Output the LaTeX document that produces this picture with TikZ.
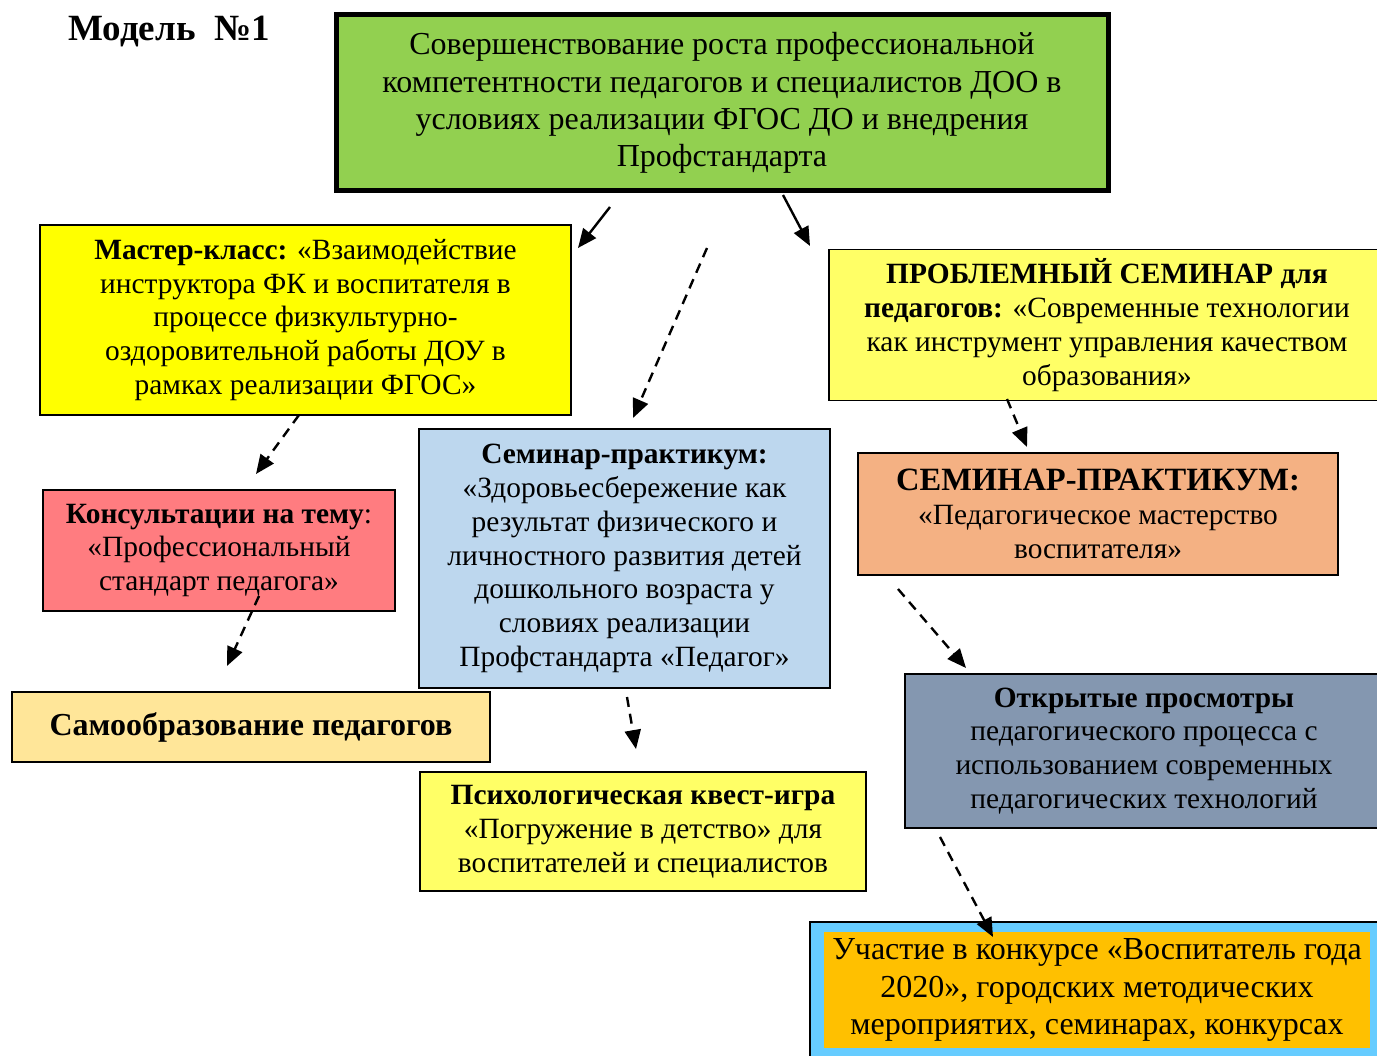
\documentclass[tikz,border=0pt]{standalone}
\usepackage{fontspec}
\setmainfont{Liberation Serif}
\usetikzlibrary{arrows.meta}
\definecolor{cgreen}{HTML}{92D050}
\definecolor{cyellow}{HTML}{FFFF00}
\definecolor{clyellow}{HTML}{FFFF66}
\definecolor{cblue}{HTML}{BDD7EE}
\definecolor{cred}{HTML}{FF7C80}
\definecolor{corange}{HTML}{F4B183}
\definecolor{csamo}{HTML}{FFE699}
\definecolor{cslate}{HTML}{8497B0}
\definecolor{ccyan}{HTML}{66CCFF}
\definecolor{cgold}{HTML}{FFC000}
\newcommand{\fsA}{\fontsize{29.4}{33.8}\selectfont}
\newcommand{\fsB}{\fontsize{32}{37.3}\selectfont}
\newcommand{\fsC}{\fontsize{32}{34}\selectfont}
\tikzset{
  box/.style={draw=black, line width=1.8pt, align=center, inner sep=0pt, font=\fsA, text=black},
  arr/.style={-{Triangle[length=19pt,width=16pt]}, line width=2.4pt},
  darr/.style={arr, dash pattern=on 10pt off 7pt},
}
\begin{document}
\begin{tikzpicture}[x=1pt,y=-1pt]
\useasboundingbox (0,0) rectangle (1377,1056);
\fill[white] (0,0) rectangle (1377,1056);
\node[font=\fontsize{37}{42}\selectfont\bfseries, anchor=west, inner sep=0pt] (title) at (68,32) {Модель\ \ №1};
\node[box, line width=5pt, fill=cgreen, minimum width=772, minimum height=176, font=\fsB] (top) at (722,103)
 {Совершенствование роста профессиональной\\компетентности педагогов и специалистов ДОО в\\условиях реализации ФГОС ДО и внедрения\\Профстандарта};
\node[box, fill=cyellow, minimum width=531, minimum height=190] (master) at (305.5,320)
 {\textbf{Мастер-класс:} «Взаимодействие\\инструктора ФК и воспитателя в\\процессе физкультурно-\\оздоровительной работы ДОУ в\\рамках реализации ФГОС»};
\node[box, fill=clyellow, minimum width=556, minimum height=151] (problem) at (1107,325)
 {\textbf{ПРОБЛЕМНЫЙ СЕМИНАР для}\\\textbf{педагогов:} «Современные технологии\\как инструмент управления качеством\\образования»};
\node[box, fill=cblue, minimum width=411, minimum height=259] (blue) at (624.5,558.5)
 {\textbf{Семинар-практикум:}\\«Здоровьесбережение как\\результат физического и\\личностного развития детей\\дошкольного возраста у\\словиях реализации\\Профстандарта «Педагог»};
\node[box, fill=cred, minimum width=352, minimum height=121] (consult) at (219,550.5)
 {\textbf{Консультации на тему}:\\«Профессиональный\\стандарт педагога»};
\node[box, fill=corange, minimum width=480, minimum height=122] (orange) at (1098,514)
 {{\fontsize{32.5}{38}\selectfont\bfseries СЕМИНАР-ПРАКТИКУМ:}\\«Педагогическое мастерство\\воспитателя»};
\node[box, fill=csamo, minimum width=478, minimum height=70, font=\fsC\bfseries] (samo) at (251,727)
 {Самообразование педагогов};
\node[box, fill=clyellow, minimum width=446, minimum height=119] (quest) at (643,831.5)
 {\textbf{Психологическая квест-игра}\\«Погружение в детство» для\\воспитателей и специалистов};
\node[box, fill=cslate, minimum width=478, minimum height=154] (open) at (1144,751)
 {\textbf{Открытые просмотры}\\педагогического процесса с\\использованием современных\\педагогических технологий};
\node[box, fill=ccyan, minimum width=580, minimum height=146] (partout) at (1100,995) {};
\node[inner sep=0pt, fill=cgold, minimum width=546, minimum height=116, align=center, font=\fsB] (part) at (1097,990)
 {Участие в конкурсе «Воспитатель года\\2020», городских методических\\мероприятих, семинарах, конкурсах};
% connector end points
\coordinate (a1s) at (610,207); \coordinate (a1e) at (578,248);
\coordinate (a2s) at (783,195); \coordinate (a2e) at (810,246);
\coordinate (a3s) at (707,248); \coordinate (a3e) at (633,418);
\coordinate (a4s) at (299,415); \coordinate (a4e) at (256,474);
\coordinate (a5s) at (259,596); \coordinate (a5e) at (227,666);
\coordinate (a6s) at (1007,399); \coordinate (a6e) at (1027,447);
\coordinate (a7s) at (627,697); \coordinate (a7e) at (636,749);
\coordinate (a8s) at (898,589); \coordinate (a8e) at (966,668);
\coordinate (a9s) at (940,837); \coordinate (a9e) at (993,937);
\draw[arr] (a1s) -- (a1e);
\draw[arr] (a2s) -- (a2e);
\draw[darr] (a3s) -- (a3e);
\draw[darr] (a4s) -- (a4e);
\draw[darr] (a5s) -- (a5e);
\draw[darr] (a6s) -- (a6e);
\draw[darr] (a7s) -- (a7e);
\draw[darr] (a8s) -- (a8e);
\draw[darr] (a9s) -- (a9e);
\end{tikzpicture}
\end{document}
